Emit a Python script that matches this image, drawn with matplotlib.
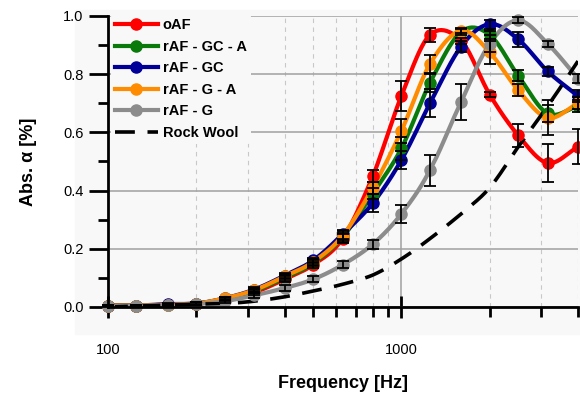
import numpy as np
import matplotlib
matplotlib.use('Agg')
import matplotlib.pyplot as plt
from matplotlib.patches import Rectangle
from matplotlib.ticker import LogLocator, NullFormatter, FixedLocator, FixedFormatter, MultipleLocator

plt.rcParams['font.family'] = ['Liberation Sans', 'DejaVu Sans']

# 1/3 octave band centre frequencies
freq = [100, 125, 160, 200, 250, 315, 400, 500, 630, 800, 1000, 1250, 1600, 2000, 2500, 3150, 4000]

oaf = [0.005, 0.005, 0.008, 0.012, 0.025, 0.05, 0.095, 0.145, 0.235, 0.45, 0.725, 0.935, 0.915, 0.73, 0.59, 0.495, 0.55]
oaf_err = [0.002, 0.002, 0.003, 0.004, 0.005, 0.008, 0.01, 0.01, 0.015, 0.02, 0.05, 0.025, 0.01, 0.01, 0.04, 0.065, 0.06]

raf_gc_a = [0.005, 0.005, 0.008, 0.012, 0.028, 0.055, 0.10, 0.15, 0.24, 0.39, 0.545, 0.77, 0.945, 0.935, 0.795, 0.665, 0.69]
raf_gc_a_err = [0.002, 0.002, 0.003, 0.004, 0.005, 0.008, 0.01, 0.01, 0.015, 0.02, 0.04, 0.03, 0.01, 0.015, 0.02, 0.03, 0.02]

raf_gc = [0.005, 0.005, 0.01, 0.012, 0.03, 0.06, 0.108, 0.16, 0.25, 0.357, 0.505, 0.70, 0.895, 0.972, 0.92, 0.81, 0.725]
raf_gc_err = [0.002, 0.002, 0.003, 0.004, 0.005, 0.008, 0.01, 0.01, 0.015, 0.03, 0.03, 0.048, 0.02, 0.015, 0.025, 0.015, 0.02]

raf_g_a = [0.005, 0.005, 0.008, 0.012, 0.03, 0.058, 0.105, 0.155, 0.245, 0.41, 0.605, 0.835, 0.95, 0.875, 0.745, 0.65, 0.70]
raf_g_a_err = [0.002, 0.002, 0.003, 0.004, 0.005, 0.008, 0.01, 0.01, 0.015, 0.02, 0.04, 0.03, 0.01, 0.04, 0.02, 0.06, 0.02]

raf_g = [0.003, 0.004, 0.006, 0.01, 0.02, 0.04, 0.065, 0.095, 0.145, 0.216, 0.32, 0.47, 0.705, 0.905, 0.985, 0.905, 0.785]
raf_g_err = [0.002, 0.002, 0.003, 0.004, 0.005, 0.008, 0.01, 0.01, 0.012, 0.015, 0.03, 0.053, 0.063, 0.03, 0.01, 0.01, 0.015]

rock_wool = [0.0, 0.003, 0.006, 0.01, 0.012, 0.02, 0.035, 0.055, 0.078, 0.11, 0.165, 0.235, 0.32, 0.41, 0.55, 0.69, 0.845]

series = [
    ('oAF', oaf, oaf_err, '#ff0000'),
    ('rAF - GC - A', raf_gc_a, raf_gc_a_err, '#0a7a0a'),
    ('rAF - GC', raf_gc, raf_gc_err, '#000099'),
    ('rAF - G - A', raf_g_a, raf_g_a_err, '#ff8c00'),
    ('rAF - G', raf_g, raf_g_err, '#8c8c8c'),
]


def smooth(xs, ys, n=24):
    # Catmull-Rom through the points, in log-frequency
    lx = np.log10(xs)
    y = np.asarray(ys, float)
    p = np.concatenate([[2 * y[0] - y[1]], y, [2 * y[-1] - y[-2]]])
    px = np.concatenate([[2 * lx[0] - lx[1]], lx, [2 * lx[-1] - lx[-2]]])
    out_x, out_y = [], []
    for i in range(1, len(p) - 2):
        t = np.linspace(0, 1, n, endpoint=False)
        m0 = (p[i + 1] - p[i - 1]) / 2
        m1 = (p[i + 2] - p[i]) / 2
        h00 = 2 * t**3 - 3 * t**2 + 1
        h10 = t**3 - 2 * t**2 + t
        h01 = -2 * t**3 + 3 * t**2
        h11 = t**3 - t**2
        out_y.append(h00 * p[i] + h10 * m0 + h01 * p[i + 1] + h11 * m1)
        out_x.append(px[i] + t * (px[i + 1] - px[i]))
    out_x.append([lx[-1]])
    out_y.append([y[-1]])
    return 10 ** np.concatenate(out_x), np.concatenate(out_y)


fig = plt.figure(figsize=(5.8, 4.01), dpi=100)
bg = Rectangle((75 / 580, 1 - 334 / 401), 505 / 580, 324 / 401,
               transform=fig.transFigure, color='#f8f8f8', zorder=-5)
fig.add_artist(bg)
ax = fig.add_axes([108 / 580, 1 - 307 / 401, 470 / 580, 291 / 401])
ax.set_zorder(1)
ax.set_facecolor('none')

for label, vals, errs, col in series:
    sx, sy = smooth(freq, vals)
    ax.plot(sx, sy, color=col, lw=3, zorder=3)
    ax.plot(freq, vals, 'o', color=col, ms=8, zorder=4, clip_on=False)
    ax.errorbar(freq, vals, yerr=errs, fmt='none', ecolor='black', elinewidth=1.3,
                capsize=4, capthick=1.3, zorder=5, clip_on=False)

sx, sy = smooth(freq, rock_wool)
ax.plot(sx, sy, color='black', lw=2.6, dashes=(5.5, 3.5), zorder=3)

# legend handles
handles = []
for label, vals, errs, col in series:
    h, = ax.plot([], [], '-o', color=col, lw=3, ms=8, label=label)
    handles.append(h)
h, = ax.plot([], [], color='black', lw=2.6, dashes=(5.5, 3.5), label='Rock Wool')
handles.append(h)
leg = ax.legend(handles=handles, loc='upper left', bbox_to_anchor=(0.0, 1.018),
                frameon=True, facecolor='#f8f8f8', edgecolor='none', framealpha=1,
                prop={'weight': 'bold', 'size': 10.5}, handlelength=2.9,
                handletextpad=0.35, labelspacing=0.52, borderpad=0.3, borderaxespad=0.2)
leg.set_zorder(6)

ax.set_xscale('log')
ax.set_xlim(100, 4000)
ax.set_ylim(0, 1.0)

ax.xaxis.set_major_locator(FixedLocator([100, 1000]))
ax.xaxis.set_major_formatter(FixedFormatter(['100', '1000']))
ax.xaxis.set_minor_locator(LogLocator(base=10, subs=np.arange(2, 10)))
ax.xaxis.set_minor_formatter(NullFormatter())
ax.yaxis.set_major_locator(MultipleLocator(0.2))
ax.yaxis.set_minor_locator(MultipleLocator(0.1))
ax.yaxis.set_major_formatter(plt.FuncFormatter(lambda v, p: f'{v:.1f}'))

ax.grid(True, which='major', axis='y', color='#a0a0a0', lw=1.1, zorder=1)
ax.grid(True, which='major', axis='x', color='#a0a0a0', lw=1.1, zorder=1)
ax.grid(True, which='minor', axis='x', color='#c8c8c8', lw=0.8, ls=(0, (4, 4)), zorder=1)

ax.tick_params(axis='x', which='major', direction='inout', length=16, width=2,
               labelsize=10.5, pad=18)
ax.tick_params(axis='x', which='minor', direction='out', length=7, width=2)
ax.tick_params(axis='y', which='major', direction='out', length=14, width=2, labelsize=10.5)
ax.tick_params(axis='y', which='minor', direction='out', length=7, width=2)

for s in ['top', 'right']:
    ax.spines[s].set_visible(False)
for s in ['left', 'bottom']:
    ax.spines[s].set_linewidth(2)
    ax.spines[s].set_zorder(7)

ax.set_xlabel('Frequency [Hz]', fontsize=13, fontweight='bold', labelpad=13)
ax.set_ylabel('Abs. α [%]', fontsize=13, fontweight='bold', labelpad=19)

fig.savefig('out.png', dpi=100)
